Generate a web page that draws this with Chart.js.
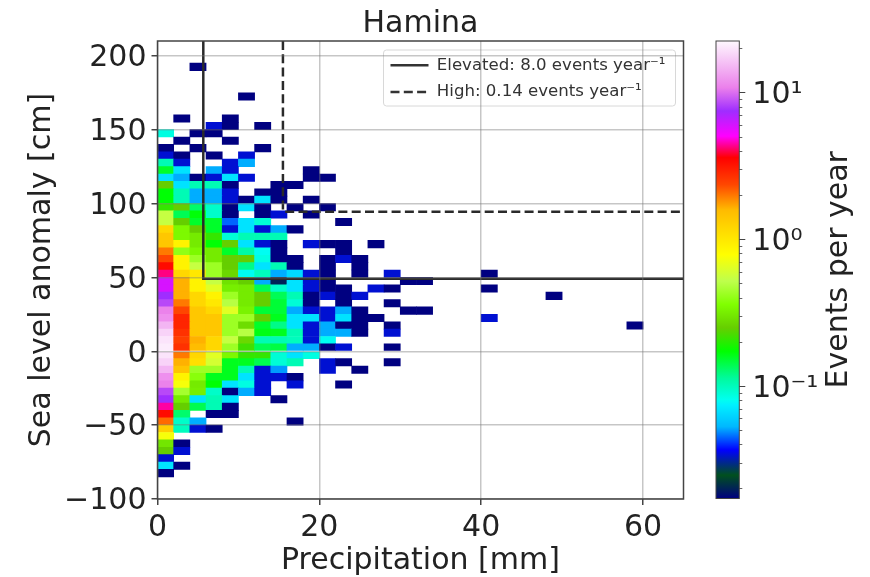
<!DOCTYPE html>
<html>
<head>
<meta charset="utf-8">
<script src="https://cdn.jsdelivr.net/npm/chart.js@4"></script>
<style>
    body { margin: 0; background: #fff; }
    canvas { position: absolute; top: 0; filter: blur(0.55px); }
    #heatmap { left: 0; }
    #colorbar { left: 700px; }
</style>
</head>
<body>
<canvas id="heatmap" width="705" height="577"></canvas>
<canvas id="colorbar" width="170" height="577"></canvas>
<script>
const titleText = "Hamina";
const xLabel = "Precipitation [mm]";
const yLabel = "Sea level anomaly [cm]";
const colorbarLabel = "Events per year";

// lower edge of each precipitation bin (2 mm wide)
const precipBins = [0, 2, 4, 6, 8, 10, 12, 14, 16, 18, 20, 22, 24, 26, 28, 30, 32, 34, 36, 38, 40, 42, 44, 46, 48, 50, 52, 54, 56, 58];
// lower edge of each anomaly bin (5 cm high), same order as eventsPerYear
const anomalyBins = [190, 185, 180, 175, 170, 165, 160, 155, 150, 145, 140, 135, 130, 125, 120, 115, 110, 105, 100, 95, 90, 85, 80, 75, 70, 65, 60, 55, 50, 45, 40, 35, 30, 25, 20, 15, 10, 5, 0, -5, -10, -15, -20, -25, -30, -35, -40, -45, -50, -55, -60, -65, -70, -75, -80, -85];
const binWidth = 2;
const binHeight = 5;

const eventsPerYear = [
    [0, 0, .017],
    [],
    [],
    [],
    [0, 0, 0, 0, 0, .017],
    [],
    [],
    [0, .017, 0, 0, .017],
    [0, 0, 0, .034, .017, 0, .017],
    [.086, 0, .017, .017],
    [0, .017, 0, 0, .017],
    [.017, 0, .017, 0, 0, 0, .017],
    [.034, .017, 0, .017, 0, .034],
    [.103, .034, 0, 0, .034, .052],
    [.155, .069, 0, .052, .034, 0, 0, 0, 0, .017],
    [.069, .052, .017, .034, .069, .034, 0, 0, 0, .017, .017],
    [.25, .069, .103, .103, .017, 0, 0, .017, .017],
    [.172, .103, .052, .052, .034, 0, .017, .017],
    [.172, .103, .052, .052, .034, .017, .069, .017, 0, .017],
    [.21, .25, .13, .095, .017, .069, .017, 0, .017, 0, .017],
    [.55, .138, .17, .095, .017, 0, .017, .034, 0, .017],
    [.55, .25, .155, .155, .045, .069, .09, 0, 0, 0, 0, .017],
    [1.2, .345, .25, .155, .034, .069, .034, .052, .017],
    [1.4, .345, .31, .21, .09, .103, .103, .103],
    [1.4, .9, .31, .172, .25, .069, .034, .017, 0, .034, .017, .017, 0, .017],
    [2.0, .4, .345, .31, .155, .11, .08, .017, 0, 0, 0, .017],
    [2.4, .9, .43, .31, .25, .25, .086, .017, .017, 0, .017, .034, .017],
    [3.4, .9, .55, .43, .25, .12, .069, .103, .017, 0, .017, 0, .017],
    [4.3, 1.2, 1.0, .43, .27, .08, .1, .052, .065, .034, .017, 0, .017, 0, .034, 0, 0, 0, 0, 0, .017],
    [6, 1.65, .9, .55, .29, .25, .052, .02, .069, .034, .017, 0, 0, 0, 0, .017, .017],
    [6, 1.65, .9, .65, .32, .31, .138, .095, .069, .034, .017, .017, 0, .034, .017, 0, 0, 0, 0, 0, .017],
    [7.5, 1.65, 1.2, .9, .43, .31, .25, .138, .103, .017, .034, .017, .034, 0, 0, 0, 0, 0, 0, 0, 0, 0, 0, 0, .017],
    [8.5, 2, 1.2, 1.0, .5, .31, .25, .15, .09, .017, 0, .017, 0, 0, .017],
    [11, 2.4, 1.4, 1.2, .65, .33, .15, .15, .052, .034, .034, .052, .017, 0, 0, .017, .017],
    [12, 2.9, 1.4, 1.4, .43, .43, .25, .16, .069, .069, .034, .069, .017, .017, 0, 0, 0, 0, 0, 0, .034],
    [15, 2.9, 1.4, 1.4, .43, .28, .155, .12, .069, .034, .052, .017, .017, 0, .017, 0, 0, 0, 0, 0, 0, 0, 0, 0, 0, 0, 0, 0, 0, .017],
    [18, 2.7, 1.4, 1.4, .43, .5, .165, .16, .103, .034, .052, .052, .017, 0, .034],
    [20, 2.5, 1.65, 1.2, .55, .27, .103, .103, .1, .034, .08],
    [21, 2.7, 1.55, 1.2, .43, .22, .138, .145, .052, .052, .017, .034, 0, 0, .017],
    [20, 2, 1.2, .65, .345, .21, .21, .09, .069, .086],
    [18, 1.65, 1.1, .6, .16, .16, .14, .09, .103, 0, .034, .017, 0, 0, .017],
    [15, 1.45, .43, .43, .16, .103, .034, .05, 0, 0, .034, 0, .017],
    [12, .9, .38, .16, .16, .069, .034, .034, .017],
    [11, .75, .31, .172, .069, .086, .034, 0, .034, 0, 0, .017],
    [8.5, .45, .32, .095, .017, .052, .034],
    [7.5, .31, .069, .103, .069, 0, 0, .017],
    [4.5, .25, .14, .103, .017],
    [3.4, .13, 0, .017, .017],
    [2.1, .095, .052, 0, 0, 0, 0, 0, .017],
    [1.3, .1, .034, .017],
    [.75],
    [.3, .017],
    [.25, .034],
    [.034],
    [.069, .017],
    [.017]
];

const elevatedLabel = "Elevated: 8.0 events year⁻¹";
const elevatedX = [5.66, 5.66, 65];
const elevatedY = [210, 49, 49];
const highLabel = "High: 0.14 events year⁻¹";
const highX = [15.5, 15.5, 65];
const highY = [210, 94.5, 94.5];

const colorbarMin = 0.0172;
const colorbarMax = 22.6;
const colorbarMajorTicks = [0.1, 1, 10];
const colorbarMajorLabels = ["10⁻¹", "10⁰", "10¹"];
const colorbarMinorTicks = [.02, .03, .04, .05, .06, .07, .08, .09, .2, .3, .4, .5, .6, .7, .8, .9, 2, 3, 4, 5, 6, 7, 8, 9, 20];

// gist_ncar like colour map, position in 0..1 and rgb
const mapPositions = [0, .051, .106, .157, .204, .216, .263, .322, .373, .424, .475, .533, .584, .631, .686, .745, .792, .847, .898, 1];
const mapColors = [[0, 0, 128], [0, 80, 30], [0, 0, 255], [0, 184, 255], [0, 240, 255], [0, 255, 240], [0, 250, 157], [0, 255, 0], [102, 206, 0], [128, 255, 0], [190, 255, 76], [255, 255, 0], [255, 220, 0], [255, 186, 0], [255, 71, 0], [255, 0, 0], [255, 0, 255], [159, 45, 255], [235, 128, 235], [254, 248, 254]];

const fontFamily = "'DejaVu Sans'";
const textColor = "#222";
const axisFont = { family: fontFamily, size: 30 };

function colorFor(value) {
    const f = Math.log(value / colorbarMin) / Math.log(colorbarMax / colorbarMin);
    const t = Math.min(Math.max(f, 0), 1);
    let i = 0;
    while (i < mapPositions.length - 2 && mapPositions[i + 1] < t) i++;
    const k = (t - mapPositions[i]) / (mapPositions[i + 1] - mapPositions[i]);
    const rgb = mapColors[i].map((c, n) => Math.round(c + (mapColors[i + 1][n] - c) * k));
    return `rgb(${rgb.join(",")})`;
}

const cells = [];
const cellColors = [];
anomalyBins.forEach((anomaly, r) => {
    eventsPerYear[r].forEach((value, c) => {
        if (!value) return;
        cells.push({ x: precipBins[c] + binWidth / 2, y: [anomaly, anomaly + binHeight] });
        cellColors.push(colorFor(value));
    });
});

function pointsOf(xs, ys) {
    return xs.map((x, i) => ({ x: x, y: ys[i] }));
}

// legend sits in the upper right corner with a soft panel behind it
const legendPanel = {
    id: "legendPanel",
    afterLayout(chart) {
        const legend = chart.legend;
        legend.left = 380.5;
        legend.top = 47;
        if (legend.panelled) return;
        legend.panelled = true;
        const drawLegend = legend.draw.bind(legend);
        legend.draw = () => {
            const ctx = chart.ctx;
            ctx.save();
            ctx.beginPath();
            ctx.roundRect(383.5, 50, 292, 56, 3);
            ctx.fillStyle = "rgba(255,255,255,0.8)";
            ctx.fill();
            ctx.strokeStyle = "#d8d8d8";
            ctx.lineWidth = 1;
            ctx.stroke();
            ctx.restore();
            drawLegend();
        };
    }
};

const plotFrame = {
    id: "plotFrame",
    afterDraw(chart) {
        const { left, top, right, bottom } = chart.chartArea;
        const ctx = chart.ctx;
        ctx.save();
        ctx.strokeStyle = "#444";
        ctx.lineWidth = chart.canvas.id === "colorbar" ? 1 : 1.5;
        ctx.strokeRect(left, top, right - left, bottom - top);
        ctx.restore();
    }
};

const heatmapChart = new Chart(document.getElementById("heatmap"), {
    type: "bar",
    data: {
        datasets: [
            {
                type: "line",
                label: elevatedLabel,
                data: pointsOf(elevatedX, elevatedY),
                borderColor: "#2a2a2a",
                backgroundColor: "#2a2a2a",
                borderWidth: 2.5,
                pointRadius: 0,
                order: 1
            },
            {
                type: "line",
                label: highLabel,
                data: pointsOf(highX, highY),
                borderColor: "#2a2a2a",
                backgroundColor: "#2a2a2a",
                borderWidth: 2.5,
                borderDash: [9, 4.3],
                pointRadius: 0,
                order: 1
            },
            {
                label: "cells",
                data: cells,
                backgroundColor: cellColors,
                borderWidth: 0,
                barPercentage: 1,
                categoryPercentage: 1,
                order: 2
            }
        ]
    },
    options: {
        responsive: false,
        animation: false,
        layout: { padding: { right: 21.5 } },
        plugins: {
            title: {
                display: true,
                text: titleText,
                fullSize: false,
                color: textColor,
                font: { family: fontFamily, size: 30, weight: "normal" },
                padding: { top: 6, bottom: -1 }
            },
            legend: {
                position: "chartArea",
                align: "start",
                labels: {
                    // point style legends lose the dash, put it back from the dataset
                    generateLabels(chart) {
                        const items = Chart.defaults.plugins.legend.labels.generateLabels(chart);
                        items.forEach((item) => {
                            item.lineDash = chart.data.datasets[item.datasetIndex].borderDash;
                            item.lineWidth = 2.5;
                            item.strokeStyle = "#333";
                        });
                        return items;
                    },
                    filter: (item) => item.text !== "cells",
                    color: "#333",
                    font: { family: fontFamily, size: 16.6 },
                    usePointStyle: true,
                    pointStyle: "line",
                    pointStyleWidth: 38,
                    padding: 10
                }
            },
            tooltip: { enabled: false }
        },
        scales: {
            x: {
                type: "linear",
                min: 0,
                max: 65,
                offset: false,
                afterFit(scale) { scale.height = 78; },
                grid: { offset: false, z: 1, color: "rgba(120,120,120,0.42)", lineWidth: 1.5, tickColor: "#444", tickLength: 6 },
                border: { display: false },
                ticks: { stepSize: 20, includeBounds: false, maxRotation: 0, color: textColor, font: axisFont, padding: 5 },
                title: { display: true, text: xLabel, color: textColor, font: axisFont, padding: { top: 0, bottom: -2 } }
            },
            y: {
                type: "linear",
                min: -100,
                max: 210,
                afterFit(scale) { scale.width = 157.5; },
                grid: { z: 1, color: "rgba(120,120,120,0.42)", lineWidth: 1.5, tickColor: "#444", tickLength: 6 },
                border: { display: false },
                ticks: {
                    stepSize: 50,
                    includeBounds: false,
                    color: textColor,
                    font: axisFont,
                    padding: 5,
                    labelOffset: 2.5,
                    callback: (v) => String(v).replace("-", "−")
                },
                title: { display: true, text: yLabel, color: textColor, font: axisFont, padding: { top: 24, bottom: 0 } }
            }
        }
    },
    plugins: [legendPanel, plotFrame]
});

const colorbarTitle = {
    id: "colorbarTitle",
    afterDraw(chart) {
        const { top, bottom, right } = chart.chartArea;
        const ctx = chart.ctx;
        ctx.save();
        ctx.translate(right + 100, (top + bottom) / 2);
        ctx.rotate(-Math.PI / 2);
        ctx.font = `30px ${fontFamily}`;
        ctx.fillStyle = textColor;
        ctx.textAlign = "center";
        ctx.textBaseline = "middle";
        ctx.fillText(colorbarLabel, 0, 0);
        ctx.restore();
    }
};

const colorbarChart = new Chart(document.getElementById("colorbar"), {
    type: "bar",
    data: {
        labels: ["events"],
        datasets: [{
            data: [[colorbarMin, colorbarMax]],
            barPercentage: 1,
            categoryPercentage: 1,
            borderWidth: 0,
            backgroundColor(context) {
                const area = context.chart.chartArea;
                if (!area) return "#fff";
                const gradient = context.chart.ctx.createLinearGradient(0, area.bottom, 0, area.top);
                mapPositions.forEach((p, i) => gradient.addColorStop(p, `rgb(${mapColors[i].join(",")})`));
                return gradient;
            }
        }]
    },
    options: {
        responsive: false,
        animation: false,
        layout: { padding: { left: 16, top: 41, bottom: 78.5 } },
        plugins: { legend: { display: false }, tooltip: { enabled: false } },
        scales: {
            x: { display: false },
            y: {
                type: "logarithmic",
                position: "right",
                weight: 1,
                min: colorbarMin,
                max: colorbarMax,
                afterBuildTicks(scale) { scale.ticks = colorbarMajorTicks.map((v) => ({ value: v })); },
                afterFit(scale) { scale.width = 130.7; },
                grid: { drawOnChartArea: false, tickColor: "#444", tickLength: 6 },
                border: { display: false },
                ticks: {
                    autoSkip: false,
                    color: textColor,
                    font: axisFont,
                    padding: 7,
                    labelOffset: 2.5,
                    callback: (v) => colorbarMajorLabels[colorbarMajorTicks.indexOf(v)]
                }
            },
            yMinor: {
                type: "logarithmic",
                position: "right",
                weight: 0,
                min: colorbarMin,
                max: colorbarMax,
                afterBuildTicks(scale) { scale.ticks = colorbarMinorTicks.map((v) => ({ value: v })); },
                afterFit(scale) { scale.width = 0; },
                grid: { drawOnChartArea: false, tickColor: "#666", tickLength: 3 },
                border: { display: false },
                ticks: { display: false, autoSkip: false }
            }
        }
    },
    plugins: [colorbarTitle, plotFrame]
});
</script>
</body>
</html>
